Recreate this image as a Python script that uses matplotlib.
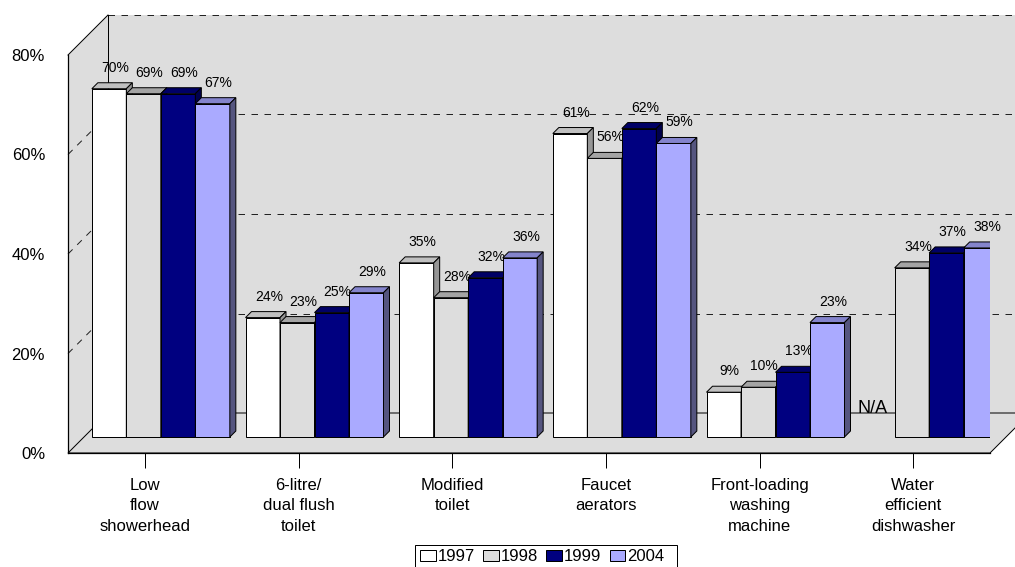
import numpy as np
import matplotlib.pyplot as plt
from matplotlib.patches import Polygon, Patch, Rectangle
from matplotlib.lines import Line2D
from matplotlib.transforms import offset_copy, IdentityTransform

plt.rcParams['font.family'] = ['Liberation Sans', 'DejaVu Sans']

categories = ['Low\nflow\nshowerhead', '6-litre/\ndual flush\ntoilet', 'Modified\ntoilet',
              'Faucet\naerators', 'Front-loading\nwashing\nmachine', 'Water\nefficient\ndishwasher']
years = ['1997', '1998', '1999', '2004']
share_1997 = [70, 24, 35, 61, 9, None]   # no 1997 survey figure for dishwashers
share_1998 = [69, 23, 28, 56, 10, 34]
share_1999 = [69, 25, 32, 62, 13, 37]
share_2004 = [67, 29, 36, 59, 23, 38]
y_ticks = [0, 20, 40, 60, 80]

series = [share_1997, share_1998, share_1999, share_2004]
front_col = ['#FFFFFF', '#DDDDDD', '#000080', '#AAAAFF']
top_col = ['#C0C0C0', '#A4A4A4', '#000066', '#8484CC']
side_col = ['#969696', '#7A7A7A', '#00004D', '#55557F']
wall = '#DDDDDD'

W, H = 1015, 567
fig = plt.figure(figsize=(W / 100, H / 100), dpi=100)
ax = fig.add_axes([68 / W, (H - 453) / H, 922 / W, 398 / H])
ax.set_xlim(-0.5, len(categories) - 0.5)
ax.set_ylim(0, 80)
ax.set_autoscale_on(False)
ax.patch.set_visible(False)
for s in ['top', 'right']:
    ax.spines[s].set_visible(False)
for s in ['left', 'bottom']:
    ax.spines[s].set_linewidth(0.9)

x0, x1 = -0.5, len(categories) - 0.5
ymax = y_ticks[-1]
DEPTH = 40        # wall depth in pixels (oblique projection, 45 deg)
BAR_D = 16        # bars sit this far behind the front plane
BAR_T = 6         # bar thickness
bw = 0.2245       # width of one bar in category units
lw = 0.72
PX = IdentityTransform()


def proj(x, y, d):
    px, py = ax.transData.transform((x, y))
    return (px + d, py + d)


def shifted(dx, dy):
    return offset_copy(ax.transData, fig=fig, x=dx, y=dy, units='dots')


def seg(p, q, **kw):
    ax.add_line(Line2D([p[0], q[0]], [p[1], q[1]], transform=PX, clip_on=False, **kw))


# walls and floor
ax.add_patch(Polygon([proj(x0, 0, DEPTH), proj(x1, 0, DEPTH), proj(x1, ymax, DEPTH), proj(x0, ymax, DEPTH)],
                     fc=wall, ec='none', transform=PX, zorder=0.1, clip_on=False))
ax.add_patch(Polygon([proj(x0, 0, 0), proj(x0, ymax, 0), proj(x0, ymax, DEPTH), proj(x0, 0, DEPTH)],
                     fc=wall, ec='none', transform=PX, zorder=0.1, clip_on=False))

dash = (0, (6.5, 6.5))
for v in y_ticks[1:]:
    seg(proj(x0, v, DEPTH), proj(x1, v, DEPTH), color='#222222', lw=lw, ls=dash, zorder=0.3)
for v in y_ticks[1:-1]:
    seg(proj(x0, v, 0), proj(x0, v, DEPTH), color='#222222', lw=lw, ls=dash, zorder=0.3)
seg(proj(x0, ymax, 0), proj(x0, ymax, DEPTH), color='black', lw=lw, zorder=0.3)
seg(proj(x0, 0, DEPTH), proj(x0, ymax, DEPTH), color='black', lw=lw, zorder=0.3)

ax.add_patch(Polygon([proj(x0, 0, 0), proj(x1, 0, 0), proj(x1, 0, DEPTH), proj(x0, 0, DEPTH)],
                     fc=wall, ec='black', lw=lw, transform=PX, zorder=0.5, clip_on=False))

# bars, drawn left to right so each one hides its neighbour's side face
xs = np.arange(len(categories))
for k, vals in enumerate(series):
    pos = xs + (k - 1.5) * bw
    keep = [i for i, v in enumerate(vals) if v is not None]
    bars = ax.bar(pos[keep], [vals[i] for i in keep], width=bw, color=front_col[k],
                  edgecolor='black', linewidth=lw, transform=shifted(BAR_D, BAR_D))
    for i, b in zip(keep, bars):
        zb = 1 + i * 0.1 + k * 0.02
        b.set_zorder(zb)
        v = vals[i]
        left, right = pos[i] - bw / 2, pos[i] + bw / 2
        d0, d1 = BAR_D, BAR_D + BAR_T
        ax.add_patch(Polygon([proj(left, v, d0), proj(right, v, d0), proj(right, v, d1), proj(left, v, d1)],
                             fc=top_col[k], ec='black', lw=lw, transform=PX, zorder=zb + 0.005))
        ax.add_patch(Polygon([proj(right, 0, d0), proj(right, v, d0), proj(right, v, d1), proj(right, 0, d1)],
                             fc=side_col[k], ec='black', lw=lw, transform=PX, zorder=zb + 0.005))
        ax.text(pos[i], v, f'{v}%', transform=shifted(BAR_D + BAR_T, BAR_D + BAR_T + 11),
                ha='center', va='baseline', fontsize=10, zorder=zb + 0.01)
    for i, v in enumerate(vals):
        if v is None:
            ax.text(pos[i], 0, 'N/A', transform=shifted(11, DEPTH), ha='center', va='baseline',
                    fontsize=13, zorder=0.9)

ax.set_xticks(xs, categories, fontsize=12, linespacing=1.45)
ax.tick_params(axis='x', length=10.8, width=lw, pad=7)
ax.set_yticks(y_ticks, [f'{v}%' for v in y_ticks], fontsize=12)
ax.tick_params(axis='y', length=0, pad=16.5)

handles = [Patch(fc=c, ec='black', lw=lw) for c in front_col]
fig.legend(handles, years, loc='upper left', bbox_to_anchor=(416 / W, (H - 545) / H), ncol=4,
           fontsize=12, frameon=False, handlelength=0.95, handleheight=0.7, handletextpad=0.1,
           columnspacing=0.5, borderpad=0.25, borderaxespad=0)
# legend box, wider on the right than the entries need
fig.add_artist(Rectangle((415, -3), 262, 25, transform=PX, fill=False, ec='black', lw=lw))

fig.savefig('out.png', dpi=100)
